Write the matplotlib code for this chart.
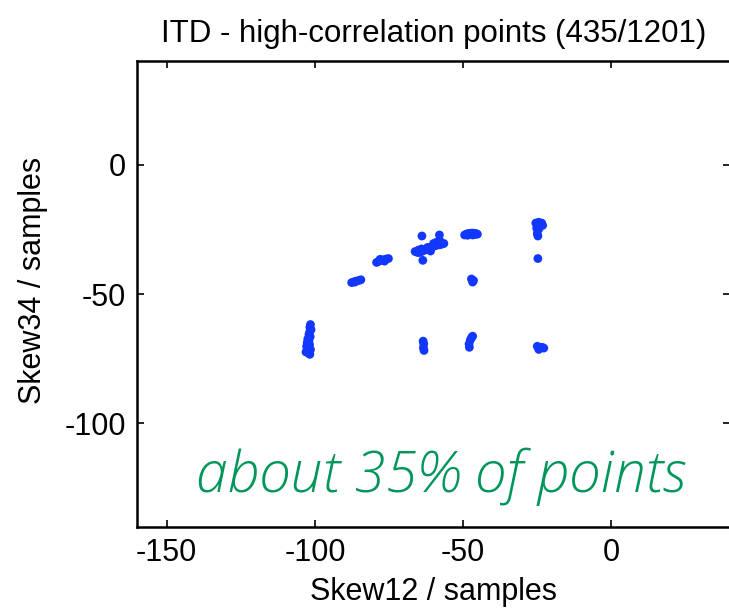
import matplotlib
matplotlib.use("Agg")
import matplotlib.pyplot as plt

# Skew12 (x) and Skew34 (y) of high-correlation points
skew12 = [
    # top-right cluster near x=-25
    -25.5, -24.5, -23.5, -25.0, -24.0, -23.2, -25.2, -24.5, -25.0, -24.8, -24.8,
    # points near x=-64 / -58 top
    -63.9, -58.0, -63.6,
    # diagonal cluster -66..-56
    -66.2, -65.5, -64.8, -64.0, -63.3, -62.5, -61.8, -61.0, -60.3, -59.5, -58.8,
    -58.0, -57.3, -56.5, -60.0, -59.0, -57.8, -62.0, -64.0, -61.0, -65.0,
    # blob near x=-47, y=-27
    -49.5, -48.8, -48.0, -47.2, -46.5, -45.8, -45.2, -48.5, -46.8, -46.0,
    # cluster near x=-77, y=-37
    -79.2, -78.5, -77.6, -76.8, -76.0, -75.2, -78.0, -76.5,
    # cluster near x=-86, y=-45
    -87.6, -86.8, -86.0, -85.2, -84.5, -86.5,
    # small cluster near x=-47, y=-45
    -47.2, -46.5, -46.8,
    # vertical cluster near x=-102
    -101.5, -101.7, -101.3, -101.8, -102.0, -101.6, -102.4, -102.0, -102.6,
    -101.8, -102.8, -102.2, -101.5, -102.5, -103.0, -102.0, -101.7,
    # cluster near x=-63, y=-70
    -63.5, -63.3, -63.4, -63.2,
    # cluster near x=-47, y=-68
    -46.8, -47.2, -47.6, -48.0, -47.9,
    # cluster near x=-24, y=-71
    -25.0, -24.2, -23.4, -22.8, -24.5,
]
skew34 = [
    -22.6, -22.3, -22.6, -23.6, -23.8, -23.5, -24.6, -24.9, -26.6, -27.6, -36.3,
    -27.6, -27.2, -37.0,
    -33.6, -33.9, -34.0, -33.6, -33.2, -32.8, -32.4, -32.0, -31.7, -31.4, -31.1,
    -31.0, -30.8, -30.5, -30.5, -30.0, -29.6, -32.0, -32.6, -33.4, -33.0,
    -27.2, -26.8, -26.6, -26.5, -26.5, -26.6, -26.9, -27.3, -27.2, -27.0,
    -37.8, -37.4, -37.0, -36.8, -36.5, -36.3, -36.6, -37.3,
    -45.6, -45.3, -45.0, -44.8, -44.5, -45.4,
    -44.2, -44.8, -45.4,
    -61.8, -62.8, -63.8, -64.8, -65.6, -66.5, -67.4, -68.0, -68.8,
    -69.6, -70.3, -70.9, -71.5, -71.9, -72.4, -73.0, -73.3,
    -68.2, -69.3, -70.8, -71.8,
    -66.3, -66.9, -67.8, -69.3, -70.6,
    -70.2, -70.6, -70.6, -70.9, -71.4,
]

xticks = [-150, -100, -50, 0]
yticks = [0, -50, -100]

plt.rcParams['font.family'] = ['Liberation Sans', 'DejaVu Sans']

fig = plt.figure(figsize=(7.29, 6.09), dpi=100)
ax = fig.add_axes([137/729, 1 - 527/609, (730 - 137)/729, (527 - 61)/609])

ax.scatter(skew12, skew34, s=40, color='#1238FF', edgecolors='none', zorder=3)

ax.set_xlim(-160, 40)
ax.set_ylim(-140, 40)
ax.set_xticks(xticks)
ax.set_yticks(yticks)
ax.set_xticklabels([str(v) for v in xticks])
ax.set_yticklabels([str(v) for v in yticks])
ax.tick_params(direction='in', length=5, width=1.2, labelsize=22,
               top=True, right=True, pad=8)
for s in ax.spines.values():
    s.set_linewidth(1.8)

ax.set_xlabel('Skew12 / samples', fontsize=22)
ax.xaxis.set_label_coords(0.5, -0.108)
ax.set_ylabel('Skew34 / samples', fontsize=22)
ax.yaxis.set_label_coords(-0.15, 0.53)
ax.set_title('ITD - high-correlation points (435/1201)', fontsize=22.5, pad=14)

ax.text(-57.5, -120.5, 'about 35% of points', fontsize=41, color='#00965A',
        family=['Open Sans', 'DejaVu Sans'], style='italic', weight='light',
        ha='center', va='center')

fig.savefig('out.png', dpi=100)
